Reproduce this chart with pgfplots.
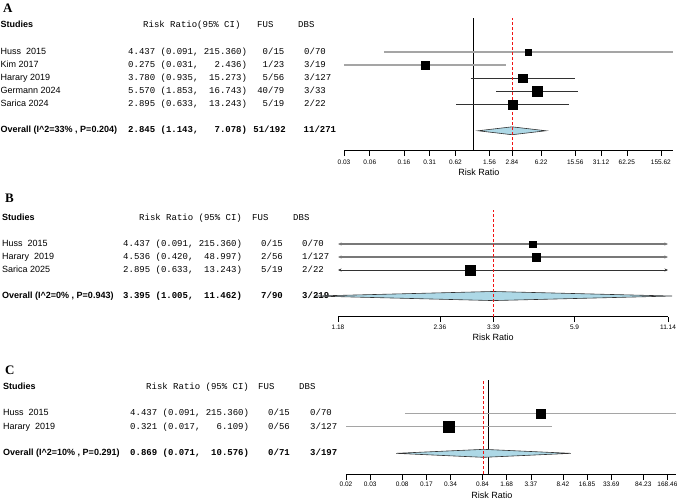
\documentclass[border=0pt]{standalone}
\usepackage{fontspec}
\setmainfont{Liberation Sans}
\newfontfamily\mono{Liberation Mono}
\newfontfamily\tnr{Liberation Serif}
\usepackage{pgfplots}
\pgfplotsset{compat=1.18}
\usetikzlibrary{arrows.meta}
\definecolor{ltblue}{RGB}{173,216,230}
\definecolor{lgray}{RGB}{165,165,165}
\definecolor{mgray}{RGB}{120,120,120}
\definecolor{dgray}{RGB}{50,50,50}
\definecolor{rdash}{RGB}{240,20,20}
\frenchspacing
\newcommand\fs[1]{\fontsize{#1bp}{#1bp}\selectfont}
% text cells: x, y (pixels from top-left), text
\newcommand\tS[3]{\node[anchor=mid west,inner sep=0pt,font=\fs{9}] at (#1bp,-#2bp) {#3};}
\newcommand\tSB[3]{\node[anchor=mid west,inner sep=0pt,font=\fs{9}\bfseries] at (#1bp,-#2bp) {#3};}
\newcommand\tM[3]{\node[anchor=mid west,inner sep=0pt,font=\mono\fs{9}] at (#1bp,-#2bp) {#3};}
\newcommand\tMB[3]{\node[anchor=mid west,inner sep=0pt,font=\mono\fs{9}\bfseries] at (#1bp,-#2bp) {#3};}
\newcommand\tMR[3]{\node[anchor=mid east,inner sep=0pt,font=\mono\fs{9}] at (#1bp,-#2bp) {#3};}
\newcommand\tMRB[3]{\node[anchor=mid east,inner sep=0pt,font=\mono\fs{9}\bfseries] at (#1bp,-#2bp) {#3};}
\newcommand\tL[3]{\node[anchor=mid west,inner sep=0pt,font=\tnr\fs{13}\bfseries] at (#1bp,-#2bp) {#3};}

\pgfplotsset{frst/.style={
  scale only axis, clip=false,
  axis y line=none, ytick=\empty, axis x line*=bottom,
  axis line style={line width=0.6bp, black},
  xtick align=outside, major tick length=5.5bp,
  every tick/.style={black, line width=0.6bp},
  xticklabel style={font=\fs{6.5}, inner sep=1.5bp},
  xlabel={Risk Ratio},
}}
\pgfplotsset{bx/.style={only marks, mark=square*, black, mark options={fill=black, draw=black, line width=0.2bp}, mark size=#1}}
\pgfplotsset{refl/.style={draw=rdash, line width=0.9bp, dash pattern=on 3bp off 2bp}}

\begin{document}
\begin{tikzpicture}
\useasboundingbox (0,0) rectangle (677bp,-502bp);

% ================= Panel A =================
\tL{3}{9.5}{A}
\tSB{0.5}{25}{Studies}
\tM{143}{25}{Risk Ratio(95\% CI)}
\tM{257}{25}{FUS}
\tM{298}{25}{DBS}

\tS{0.5}{51.7}{Huss\ \ 2015}
\tS{0.5}{64.6}{Kim 2017}
\tS{0.5}{77.8}{Harary 2019}
\tS{0.5}{90.9}{Germann 2024}
\tS{0.5}{103.8}{Sarica 2024}
\tSB{0.5}{130.3}{Overall (I\textasciicircum 2=33\% , P=0.204)}

\tM{128}{51.7}{4.437 (0.091, 215.360)}
\tM{128}{64.6}{0.275 (0.031,~~~2.436)}
\tM{128}{77.8}{3.780 (0.935,~~15.273)}
\tM{128}{90.9}{5.570 (1.853,~~16.743)}
\tM{128}{103.8}{2.895 (0.633,~~13.243)}
\tMB{128}{130.3}{2.845 (1.143,~~~7.078)}

\tMR{284.5}{51.7}{0/15}
\tMR{284.5}{64.6}{1/23}
\tMR{284.5}{77.8}{5/56}
\tMR{284.5}{90.9}{40/79}
\tMR{284.5}{103.8}{5/19}
\tMRB{286}{130.3}{51/192}

\tM{304}{51.7}{0/70}
\tM{304}{64.6}{3/19}
\tM{304}{77.8}{3/127}
\tM{304}{90.9}{3/33}
\tM{304}{103.8}{2/22}
\tMB{303.5}{130.3}{11/271}

\begin{axis}[frst, xmode=log, anchor=south west, at={(344bp,-150bp)}, width=329bp, height=131.7bp,
  xmin=0.0311, xmax=215.36, ymin=-8.46, ymax=1.54,
  xtick={0.0311,0.0622,0.1556,0.3112,0.6225,1.556,2.845,6.224,15.56,31.12,62.25,155.62},
  xticklabels={0.03,0.06,0.16,0.31,0.62,1.56,2.84,6.22,15.56,31.12,62.25,155.62},
  xticklabel style={yshift=-2.5bp},
  xlabel style={font=\fs{9}, at={(axis description cs:0.41,0)}, anchor=center, yshift=-22bp}]
\addplot[black, line width=0.8bp] coordinates {(1,-8.46) (1,1.54)};
\addplot[lgray, line width=1.6bp] coordinates {(0.091,-1) (215.36,-1)};
\addplot[lgray, line width=1.6bp] coordinates {(0.031,-2) (2.436,-2)};
\addplot[dgray, line width=1.0bp] coordinates {(0.935,-3) (15.273,-3)};
\addplot[dgray, line width=1.0bp] coordinates {(1.853,-4) (16.743,-4)};
\addplot[dgray, line width=1.0bp] coordinates {(0.633,-5) (13.243,-5)};
\addplot[fill=ltblue, draw=dgray, line width=0.6bp] coordinates {(1.143,-7) (2.845,-6.7) (7.078,-7) (2.845,-7.3)} -- cycle;
\addplot[refl] coordinates {(2.845,-8.46) (2.845,1.54)};
\addplot[bx=3.0bp] coordinates {(4.437,-1)};
\addplot[bx=3.7bp] coordinates {(0.275,-2)};
\addplot[bx=4.4bp] coordinates {(3.780,-3)};
\addplot[bx=5.0bp] coordinates {(5.570,-4)};
\addplot[bx=4.2bp] coordinates {(2.895,-5)};
\end{axis}

% ================= Panel B =================
\tL{5}{200}{B}
\tSB{2}{218}{Studies}
\tM{139}{218}{Risk Ratio (95\% CI)}
\tM{252}{218}{FUS}
\tM{293}{218}{DBS}

\tS{2}{244}{Huss\ \ 2015}
\tS{2}{257}{Harary\ \ 2019}
\tS{2}{270}{Sarica 2025}
\tSB{2}{296}{Overall (I\textasciicircum 2=0\% , P=0.943)}

\tM{123}{244}{4.437 (0.091, 215.360)}
\tM{123}{257}{4.536 (0.420,~~48.997)}
\tM{123}{270}{2.895 (0.633,~~13.243)}
\tMB{123}{296}{3.395 (1.005,~~11.462)}

\tMR{283}{244}{0/15}
\tMR{283}{257}{2/56}
\tMR{283}{270}{5/19}
\tMRB{283}{296}{7/90}

\tM{302}{244}{0/70}
\tM{302}{257}{1/127}
\tM{302}{270}{2/22}
\tMB{302}{296}{3/219}

\begin{axis}[frst, xmode=log, anchor=south west, at={(338bp,-316.7bp)}, width=330bp, height=106.7bp,
  xmin=1.18, xmax=11.14, ymin=-6.59, ymax=1.615,
  xtick={1.18,2.36,3.395,5.9,11.14},
  xticklabels={1.18,2.36,3.39,5.9,11.14},
  xticklabel style={yshift=-1bp},
  xlabel style={font=\fs{9}, at={(axis description cs:0.47,0)}, anchor=center, yshift=-20.5bp}]
\addplot[mgray, line width=1.1bp, {Stealth[length=3.5bp,width=3bp]}-{Stealth[length=3.5bp,width=3bp]}] coordinates {(1.18,-1) (11.14,-1)};
\addplot[mgray, line width=1.1bp, {Stealth[length=3.5bp,width=3bp]}-{Stealth[length=3.5bp,width=3bp]}] coordinates {(1.18,-2) (11.14,-2)};
\addplot[dgray, line width=1.0bp, {Stealth[length=3.5bp,width=3bp]}-{Stealth[length=3.5bp,width=3bp]}] coordinates {(1.18,-3) (11.14,-3)};
\addplot[fill=ltblue, draw=dgray, line width=0.6bp] coordinates {(1.005,-5) (3.395,-4.65) (11.462,-5) (3.395,-5.35)} -- cycle;
\addplot[refl] coordinates {(3.395,-6.59) (3.395,1.615)};
\addplot[bx=3.3bp] coordinates {(4.437,-1)};
\addplot[bx=4.1bp] coordinates {(4.536,-2)};
\addplot[bx=5.0bp] coordinates {(2.895,-3)};
\end{axis}

% ================= Panel C =================
\tL{5}{371.7}{C}
\tSB{3}{387}{Studies}
\tM{146}{387}{Risk Ratio (95\% CI)}
\tM{258}{387}{FUS}
\tM{299}{387}{DBS}

\tS{3}{413.3}{Huss\ \ 2015}
\tS{3}{426.7}{Harary\ \ 2019}
\tSB{3}{453.3}{Overall (I\textasciicircum 2=10\% , P=0.291)}

\tM{130}{413.3}{4.437 (0.091, 215.360)}
\tM{130}{426.7}{0.321 (0.017,~~~6.109)}
\tMB{130}{453.3}{0.869 (0.071,~~10.576)}

\tMR{290}{413.3}{0/15}
\tMR{290}{426.7}{0/56}
\tMRB{290}{453.3}{0/71}

\tM{310}{413.3}{0/70}
\tM{310}{426.7}{3/127}
\tMB{310}{453.3}{3/197}

\begin{axis}[frst, xmode=log, anchor=south west, at={(346bp,-474bp)}, width=330bp, height=94bp,
  xmin=0.01684, xmax=215.36, ymin=-5.55, ymax=1.5,
  xtick={0.01684,0.03369,0.08423,0.1685,0.3369,0.8423,1.685,3.369,8.423,16.85,33.69,84.23,168.46},
  xticklabels={0.02,0.03,0.08,0.17,0.34,0.84,1.68,3.37,8.42,16.85,33.69,84.23,168.46},
  xticklabel style={yshift=-1bp},
  xlabel style={font=\fs{9}, at={(axis description cs:0.442,0)}, anchor=center, yshift=-21bp}]
\addplot[black, line width=0.8bp] coordinates {(1,-5.55) (1,1.5)};
\addplot[lgray, line width=1.6bp] coordinates {(0.091,-1) (215.36,-1)};
\addplot[lgray, line width=1.6bp] coordinates {(0.017,-2) (6.109,-2)};
\addplot[fill=ltblue, draw=dgray, line width=0.6bp] coordinates {(0.071,-4) (0.869,-3.7) (10.576,-4) (0.869,-4.3)} -- cycle;
\addplot[refl] coordinates {(0.869,-5.55) (0.869,1.5)};
\addplot[bx=4.4bp] coordinates {(4.437,-1)};
\addplot[bx=5.3bp] coordinates {(0.321,-2)};
\end{axis}
\end{tikzpicture}
\end{document}
